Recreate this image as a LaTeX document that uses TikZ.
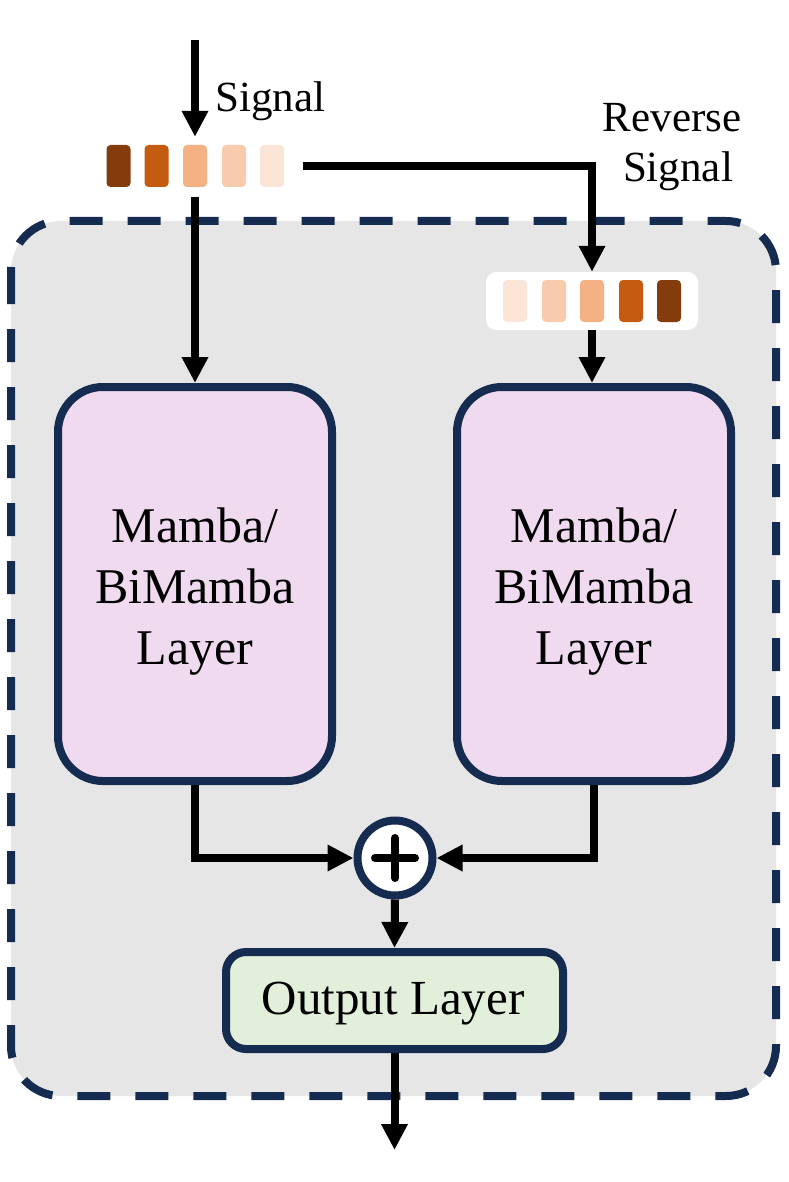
\documentclass[tikz,border=0pt]{standalone}
\usepackage{fontspec}
\setmainfont{Liberation Serif}
\usetikzlibrary{arrows.meta,calc}
\definecolor{navy}{HTML}{162B50}
\definecolor{bggray}{HTML}{E6E6E6}
\definecolor{mpink}{HTML}{F0DAF0}
\definecolor{ogreen}{HTML}{E2EFDA}
\definecolor{cA}{HTML}{843C0C}
\definecolor{cB}{HTML}{C55A11}
\definecolor{cC}{HTML}{F4B183}
\definecolor{cD}{HTML}{F8CBAD}
\definecolor{cE}{HTML}{FBE5D6}
\begin{document}
\begin{tikzpicture}[x=1pt,y=-1pt,
  tok/.style={rectangle,rounded corners=4pt,minimum width=24pt,minimum height=42pt,inner sep=0pt,draw=none},
  layerbox/.style={rectangle,rounded corners=45pt,minimum width=274pt,minimum height=394pt,draw=navy,line width=8pt,fill=mpink},
  layertxt/.style={align=center,inner sep=0pt,font=\fontsize{50}{61}\selectfont},
  conn/.style={line width=8pt,-{Triangle[length=26pt,width=25pt]}},
  lbl/.style={font=\fontsize{43}{50}\selectfont,inner sep=0pt}]
\useasboundingbox (0,0) rectangle (788,1182);
% background panel
\path[fill=bggray,draw=navy,line width=8pt,dash pattern=on 33pt off 25pt,rounded corners=50pt]
  (11,221) rectangle (776,1096);
% input tokens
\node[tok,fill=cA] (s1) at (118.5,166) {};
\node[tok,fill=cB] (s2) at (156.5,166) {};
\node[tok,fill=cC] (s3) at (195,166) {};
\node[tok,fill=cD] (s4) at (234,166) {};
\node[tok,fill=cE] (s5) at (272,166) {};
% reversed tokens
\node[rectangle,rounded corners=10pt,fill=white,minimum width=212pt,minimum height=58pt,inner sep=0pt] (rev) at (592,301) {};
\node[tok,fill=cE] (r1) at (515,301) {};
\node[tok,fill=cD] (r2) at (554,301) {};
\node[tok,fill=cC] (r3) at (592,301) {};
\node[tok,fill=cB] (r4) at (631,301) {};
\node[tok,fill=cA] (r5) at (669,301) {};
% labels
\node[lbl,anchor=base west] (siglbl) at (215,112) {Signal};
\node[lbl,anchor=base] (revlbl1) at (672,132) {Reverse};
\node[lbl,anchor=base] (revlbl2) at (678,182) {Signal};
% layers
\node[layerbox] (mambaL) at (195,584) {};
\node[layertxt] (mambaLtxt) at (195,592) {Mamba/\\BiMamba\\Layer};
\node[layerbox] (mambaR) at (594,584) {};
\node[layertxt] (mambaRtxt) at (594,592) {Mamba/\\BiMamba\\Layer};
\node[circle,minimum size=75pt,inner sep=0pt,draw=navy,line width=8pt,fill=white] (plus) at (395,858) {};
\draw[line width=8pt,line cap=round] ([xshift=-20pt]plus.center) -- ([xshift=20pt]plus.center);
\draw[line width=8pt,line cap=round] ([yshift=-20pt]plus.center) -- ([yshift=20pt]plus.center);
\node[rectangle,rounded corners=20pt,minimum width=337pt,minimum height=97pt,draw=navy,line width=8pt,fill=ogreen] (output) at (394.5,1000.5) {};
\node[font=\fontsize{49}{58}\selectfont,inner sep=0pt] (outtxt) at (393,1004) {Output Layer};
% connectors
\coordinate (sigtop) at (195,40);
\coordinate (outend) at (394.5,1150);
\draw[conn] (sigtop) -- ([yshift=8pt]s3.north);
\draw[conn] ([yshift=-10pt]s3.south) -- (mambaL.north);
\draw[conn,line join=miter] ([xshift=19pt]s5.east) -| (rev.north);
\draw[conn] (rev.south) -- (rev.south |- mambaR.north);
\draw[conn,line join=miter] (mambaL.south) |- (plus.west);
\draw[conn,line join=miter] (mambaR.south) |- (plus.east);
\draw[conn] (plus.south) -- (output.north);
\draw[conn] (output.south) -- (outend);
\end{tikzpicture}
\end{document}
